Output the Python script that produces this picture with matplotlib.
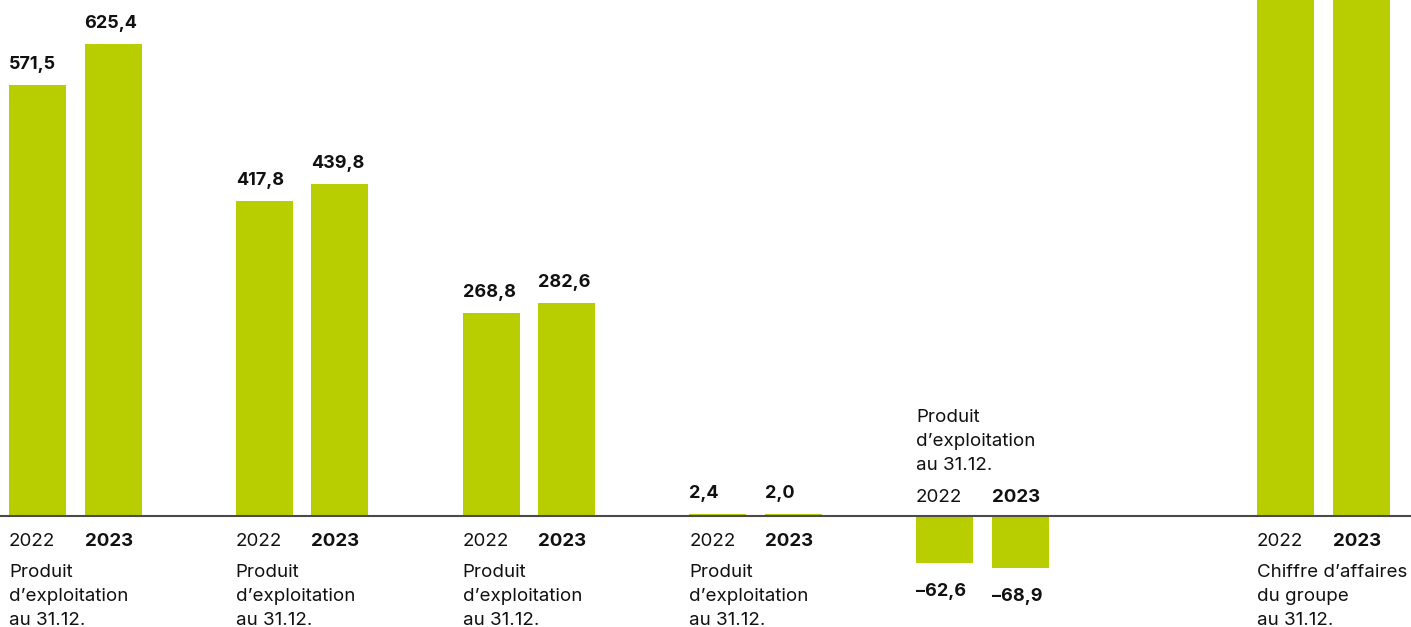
import matplotlib
matplotlib.use("Agg")
import matplotlib.pyplot as plt
from matplotlib.transforms import offset_copy

plt.rcParams['font.family'] = ['Inter', 'DejaVu Sans']

# ---- data ----
years = ["2022", "2023"]
categories = [
    "Produit\nd’exploitation\nau 31.12.",
    "Produit\nd’exploitation\nau 31.12.",
    "Produit\nd’exploitation\nau 31.12.",
    "Produit\nd’exploitation\nau 31.12.",
    "Produit\nd’exploitation\nau 31.12.",
    "Chiffre d’affaires\ndu groupe\nau 31.12.",
]
values_2022 = [571.5, 417.8, 268.8, 2.4, -62.6, 1050.0]
values_2023 = [625.4, 439.8, 282.6, 2.0, -68.9, 1120.0]
group_pos = [0, 1, 2, 3, 4, 5.504]

# ---- style ----
BAR = "#b8ce00"
AXIS = "#4a4a4a"
TXT = "#111111"
DPI = 100
W, H = 1411, 627
GS = 226.75
bar_w = 57 / GS
offset_2023 = 75.5 / GS

fig = plt.figure(figsize=(W / DPI, H / DPI), dpi=DPI)
ax = fig.add_axes([0, 0, 1, 1])
ax.set_xlim(-9 / GS, (W - 9) / GS)
scale = 0.7543  # px per unit
ax.set_ylim(-(H - 516) / scale, 516 / scale)
ax.axis("off")

def px(dx, dy):
    return offset_copy(ax.transData, fig=fig, x=dx * 72 / DPI, y=dy * 72 / DPI, units="points")

ymax = 516 / scale
for i, g in enumerate(group_pos):
    for j, vals in enumerate([values_2022, values_2023]):
        x = g + j * offset_2023
        v = vals[i]
        ax.bar(x, v, width=bar_w, align="edge", color=BAR, zorder=2)
        if v < ymax:
            if v >= 0:
                ax.text(x, v, f"{v:.1f}".replace(".", ","), transform=px(0, 16),
                        ha="left", va="baseline", fontsize=13, fontweight="bold", color=TXT)
            else:
                s = "–" + f"{abs(v):.1f}".replace(".", ",")
                ax.text(x, v, s, transform=px(0, -20),
                        ha="left", va="top", fontsize=13, fontweight="bold", color=TXT)
    neg = values_2022[i] < 0
    lines = categories[i].split("\n")
    for j, yr in enumerate(years):
        x = g + j * offset_2023
        dy = 14 if neg else -30
        ax.text(x, 0, yr, transform=px(0, dy), ha="left", va="baseline",
                fontsize=13.5, fontweight="bold" if j == 1 else "normal", color=TXT)
    for k, line in enumerate(lines):
        if neg:
            dy = 46 + (len(lines) - 1 - k) * 24
        else:
            dy = -61 - k * 24
        ax.text(g, 0, line, transform=px(0, dy), ha="left", va="baseline",
                fontsize=13.5, color=TXT)

ax.axhline(0, color=AXIS, lw=1.5, zorder=3)

fig.savefig("out.png", dpi=DPI)
